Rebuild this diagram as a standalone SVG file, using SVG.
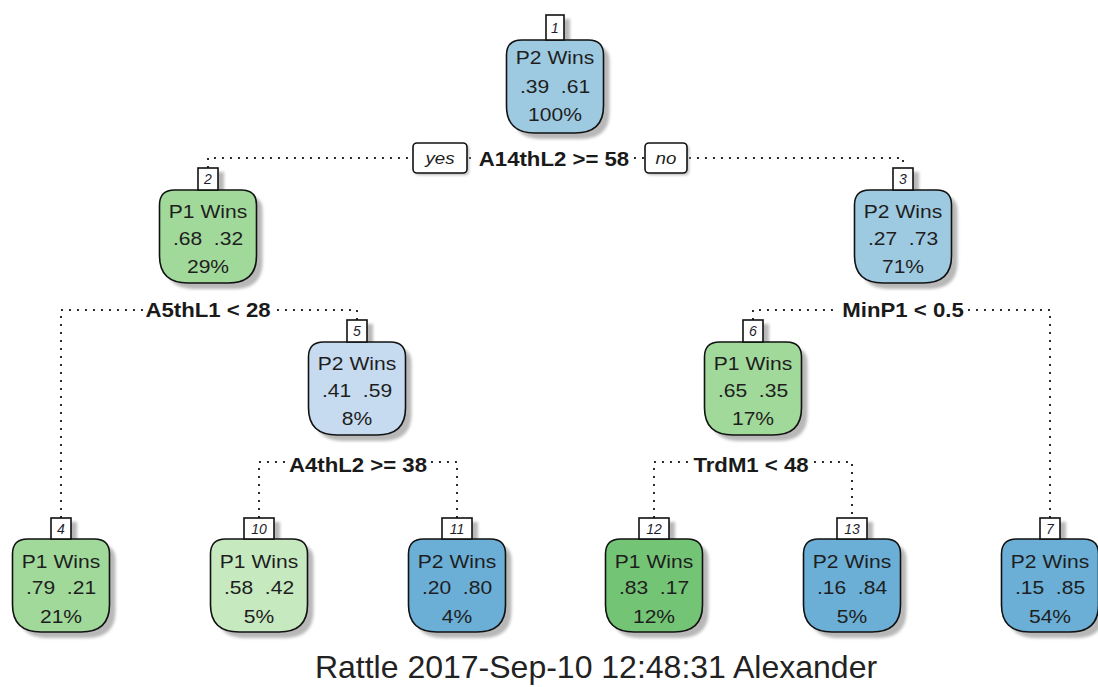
<svg xmlns="http://www.w3.org/2000/svg" xmlns:xlink="http://www.w3.org/1999/xlink" width="1098" height="687" viewBox="0 0 1098 687">
<style>
.t{font-family:"Liberation Sans",Arial,sans-serif;font-size:18px;fill:#1e1e1e;text-anchor:middle;white-space:pre}
.num{font-family:"Liberation Sans",Arial,sans-serif;font-size:14px;font-style:italic;fill:#1e1e2e;text-anchor:middle}
.split{font-family:"Liberation Sans",Arial,sans-serif;font-size:20px;font-weight:bold;fill:#1a1a1a;text-anchor:middle}
.yn{font-family:"Liberation Sans",Arial,sans-serif;font-size:16px;font-style:italic;fill:#1e1e1e;text-anchor:middle}
.title{font-family:"Liberation Sans",Arial,sans-serif;font-size:32px;fill:#222;text-anchor:middle}
.nb{stroke:#111;stroke-width:1.6}
.sh{fill:#b8b8b8;filter:url(#blur)}
.lb{fill:#fff;stroke:#111;stroke-width:1.6}
.dot{fill:none;stroke:#222;stroke-width:1.9;stroke-dasharray:1.9 6.1}
</style>
<defs>
<filter id="blur" x="-20%" y="-20%" width="140%" height="140%"><feGaussianBlur stdDeviation="1.5"/></filter>
<path id="shape" d="M-48.5,15 Q-48.5,0 -33.5,0 H33.5 Q48.5,0 48.5,15 V66 Q48.5,93 20,93 H-20 Q-48.5,93 -48.5,66 Z"/>
</defs>
<rect width="1098" height="687" fill="#fff"/>

<g id="connectors">
<path class="dot" d="M208,168 V158 H413"/>
<path class="dot" d="M469,158 H476"/>
<path class="dot" d="M634,158 H644"/>
<path class="dot" d="M689,158 H903 V168"/>
<path class="dot" d="M61,518 V310 H143"/>
<path class="dot" d="M277,310 H357 V320"/>
<path class="dot" d="M753,320 V310 H838"/>
<path class="dot" d="M968,310 H1050 V518"/>
<path class="dot" d="M259,518 V462 H285"/>
<path class="dot" d="M431,462 H457 V518"/>
<path class="dot" d="M654,518 V462 H689"/>
<path class="dot" d="M814,462 H852 V518"/>
</g>

<g id="splits">
<rect class="sh" x="415" y="145" width="54" height="30" rx="4"/>
<rect class="lb" x="413" y="143" width="54" height="30" rx="4"/>
<text class="yn" transform="translate(440,164) scale(1.17,1)">yes</text>
<rect class="sh" x="647" y="145" width="42" height="30" rx="4"/>
<rect class="lb" x="645" y="143" width="42" height="30" rx="4"/>
<text class="yn" transform="translate(666,164) scale(1.17,1)">no</text>
<text class="split" transform="translate(554,166) scale(1.11,1)">A14thL2 &gt;= 58</text>
<text class="split" transform="translate(208,317) scale(1.11,1)">A5thL1 &lt; 28</text>
<text class="split" transform="translate(903,317) scale(1.11,1)">MinP1 &lt; 0.5</text>
<text class="split" transform="translate(358,472) scale(1.11,1)">A4thL2 &gt;= 38</text>
<text class="split" transform="translate(751,472) scale(1.11,1)">TrdM1 &lt; 48</text>
</g>

<g id="node1" transform="translate(555,40)">
<rect class="sh" x="-3" y="-21" width="18" height="25"/>
<use href="#shape" class="sh" x="6" y="6"/>
<use href="#shape" class="nb" fill="#9ecae1"/>
<rect class="lb" x="-9" y="-25" width="18" height="25"/>
<text class="num" y="-7">1</text>
<text class="t" transform="translate(0,24) scale(1.17,1)">P2 Wins</text>
<text class="t" transform="translate(0,53) scale(1.17,1)">.39  .61</text>
<text class="t" transform="translate(0,81) scale(1.17,1)">100%</text>
</g>

<g id="node2" transform="translate(208,190)">
<rect class="sh" x="-4" y="-18" width="20" height="22"/>
<use href="#shape" class="sh" x="6" y="6"/>
<use href="#shape" class="nb" fill="#a1d99b"/>
<rect class="lb" x="-10" y="-22" width="20" height="22"/>
<text class="num" y="-6">2</text>
<text class="t" transform="translate(0,28) scale(1.17,1)">P1 Wins</text>
<text class="t" transform="translate(0,55) scale(1.17,1)">.68  .32</text>
<text class="t" transform="translate(0,83) scale(1.17,1)">29%</text>
</g>

<g id="node3" transform="translate(903,190)">
<rect class="sh" x="-4" y="-18" width="20" height="22"/>
<use href="#shape" class="sh" x="6" y="6"/>
<use href="#shape" class="nb" fill="#9ecae1"/>
<rect class="lb" x="-10" y="-22" width="20" height="22"/>
<text class="num" y="-6">3</text>
<text class="t" transform="translate(0,28) scale(1.17,1)">P2 Wins</text>
<text class="t" transform="translate(0,55) scale(1.17,1)">.27  .73</text>
<text class="t" transform="translate(0,83) scale(1.17,1)">71%</text>
</g>

<g id="node5" transform="translate(357,342)">
<rect class="sh" x="-4" y="-18" width="20" height="22"/>
<use href="#shape" class="sh" x="6" y="6"/>
<use href="#shape" class="nb" fill="#c6dbef"/>
<rect class="lb" x="-10" y="-22" width="20" height="22"/>
<text class="num" y="-6">5</text>
<text class="t" transform="translate(0,28) scale(1.17,1)">P2 Wins</text>
<text class="t" transform="translate(0,55) scale(1.17,1)">.41  .59</text>
<text class="t" transform="translate(0,83) scale(1.17,1)">8%</text>
</g>

<g id="node6" transform="translate(753,342)">
<rect class="sh" x="-4" y="-18" width="20" height="22"/>
<use href="#shape" class="sh" x="6" y="6"/>
<use href="#shape" class="nb" fill="#a1d99b"/>
<rect class="lb" x="-10" y="-22" width="20" height="22"/>
<text class="num" y="-6">6</text>
<text class="t" transform="translate(0,28) scale(1.17,1)">P1 Wins</text>
<text class="t" transform="translate(0,55) scale(1.17,1)">.65  .35</text>
<text class="t" transform="translate(0,83) scale(1.17,1)">17%</text>
</g>

<g id="node4" transform="translate(61,539)">
<rect class="sh" x="-4" y="-17" width="20" height="21"/>
<use href="#shape" class="sh" x="6" y="6"/>
<use href="#shape" class="nb" fill="#a1d99b"/>
<rect class="lb" x="-10" y="-21" width="20" height="21"/>
<text class="num" y="-5">4</text>
<text class="t" transform="translate(0,29) scale(1.17,1)">P1 Wins</text>
<text class="t" transform="translate(0,55) scale(1.17,1)">.79  .21</text>
<text class="t" transform="translate(0,84) scale(1.17,1)">21%</text>
</g>

<g id="node10" transform="translate(259,539)">
<rect class="sh" x="-9" y="-17" width="30" height="21"/>
<use href="#shape" class="sh" x="6" y="6"/>
<use href="#shape" class="nb" fill="#c7e9c0"/>
<rect class="lb" x="-15" y="-21" width="30" height="21"/>
<text class="num" y="-5">10</text>
<text class="t" transform="translate(0,29) scale(1.17,1)">P1 Wins</text>
<text class="t" transform="translate(0,55) scale(1.17,1)">.58  .42</text>
<text class="t" transform="translate(0,84) scale(1.17,1)">5%</text>
</g>

<g id="node11" transform="translate(457,539)">
<rect class="sh" x="-9" y="-17" width="30" height="21"/>
<use href="#shape" class="sh" x="6" y="6"/>
<use href="#shape" class="nb" fill="#6baed6"/>
<rect class="lb" x="-15" y="-21" width="30" height="21"/>
<text class="num" y="-5">11</text>
<text class="t" transform="translate(0,29) scale(1.17,1)">P2 Wins</text>
<text class="t" transform="translate(0,55) scale(1.17,1)">.20  .80</text>
<text class="t" transform="translate(0,84) scale(1.17,1)">4%</text>
</g>

<g id="node12" transform="translate(654,539)">
<rect class="sh" x="-9" y="-17" width="30" height="21"/>
<use href="#shape" class="sh" x="6" y="6"/>
<use href="#shape" class="nb" fill="#74c476"/>
<rect class="lb" x="-15" y="-21" width="30" height="21"/>
<text class="num" y="-5">12</text>
<text class="t" transform="translate(0,29) scale(1.17,1)">P1 Wins</text>
<text class="t" transform="translate(0,55) scale(1.17,1)">.83  .17</text>
<text class="t" transform="translate(0,84) scale(1.17,1)">12%</text>
</g>

<g id="node13" transform="translate(852,539)">
<rect class="sh" x="-9" y="-17" width="30" height="21"/>
<use href="#shape" class="sh" x="6" y="6"/>
<use href="#shape" class="nb" fill="#6baed6"/>
<rect class="lb" x="-15" y="-21" width="30" height="21"/>
<text class="num" y="-5">13</text>
<text class="t" transform="translate(0,29) scale(1.17,1)">P2 Wins</text>
<text class="t" transform="translate(0,55) scale(1.17,1)">.16  .84</text>
<text class="t" transform="translate(0,84) scale(1.17,1)">5%</text>
</g>

<g id="node7" transform="translate(1050,539)">
<rect class="sh" x="-4" y="-17" width="20" height="21"/>
<use href="#shape" class="sh" x="6" y="6"/>
<use href="#shape" class="nb" fill="#6baed6"/>
<rect class="lb" x="-10" y="-21" width="20" height="21"/>
<text class="num" y="-5">7</text>
<text class="t" transform="translate(0,29) scale(1.17,1)">P2 Wins</text>
<text class="t" transform="translate(0,55) scale(1.17,1)">.15  .85</text>
<text class="t" transform="translate(0,84) scale(1.17,1)">54%</text>
</g>

<text class="title" x="596" y="678">Rattle 2017-Sep-10 12:48:31 Alexander</text>
</svg>
